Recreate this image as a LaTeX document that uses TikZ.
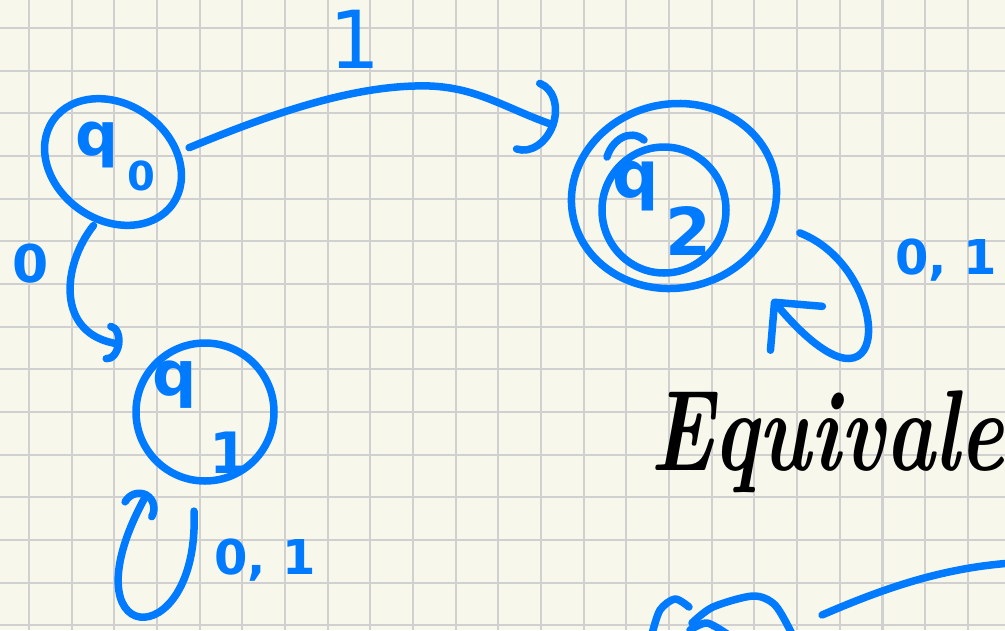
\documentclass[tikz,border=0pt]{standalone}
\usepackage{fontspec}
\newfontfamily\hand{DejaVu Sans}
\usetikzlibrary{arrows.meta,shapes.geometric}
\definecolor{ink}{RGB}{0,122,255}
\definecolor{paper}{RGB}{248,247,236}
\definecolor{gridc}{RGB}{208,208,208}
% put #3 with its left edge #1 right of and its baseline #2 above the node centre, taking no room
\newcommand\putat[3]{\makebox[0pt][l]{\hspace*{#1}\raisebox{#2}[0pt][0pt]{#3}}}
\begin{document}
\begin{tikzpicture}[x=1pt,y=-1pt,
  stroke/.style={draw=ink, line width=7.5pt, line cap=round, line join=round},
  statenode/.style={ellipse, inner sep=0pt, text=ink, font=\hand\bfseries},
  edge/.style={stroke},
  lbl/.style={text=ink, inner sep=0pt, font=\hand\bfseries},
  gridline/.style={draw=gridc, line width=2.2pt}]
\useasboundingbox (0,0) rectangle (1005,630);
\clip (0,0) rectangle (1005,630);
\fill[paper] (0,0) rectangle (1005,630);
\foreach \k in {0,...,22} \draw[gridline] ({29+42.67*\k},0) -- ({29+42.67*\k},630);
\foreach \k in {0,...,14} \draw[gridline] (0,{28+42.67*\k}) -- (1005,{28+42.67*\k});

% states
\node[statenode, minimum width=148pt, minimum height=120pt] (q0) at (113,162)
  {\putat{-38pt}{7pt}{\fontsize{60}{60}\selectfont q}\putat{14pt}{-28pt}{\fontsize{40}{40}\selectfont 0}};
\draw[stroke, rotate around={-35:(q0.center)}] (q0.center) ellipse (73 and 58);

\node[statenode, minimum width=140pt, minimum height=140pt] (q1) at (205,412)
  {\putat{-53pt}{17pt}{\fontsize{62}{62}\selectfont q}\putat{4pt}{-61pt}{\fontsize{57}{57}\selectfont 1}};
\draw[stroke] (q1.center) ellipse (69 and 69);

\node[statenode, minimum width=124pt, minimum height=126pt] (q2) at (664,210)
  {\putat{-52pt}{13pt}{\fontsize{65}{65}\selectfont q}\putat{1pt}{-45pt}{\fontsize{66}{66}\selectfont 2}};
\draw[stroke] (q2.center) ellipse (62 and 63);
\node[ellipse, inner sep=0pt, minimum width=208pt, minimum height=184pt] (q2o) at (674,196) {};
\draw[stroke, rotate around={12:(q2o.center)}] (q2o.center) ellipse (103 and 92);
\draw[stroke] (607,157) .. controls (612,140) and (630,128) .. (644,140);

% transitions
\draw[edge, shorten <=4pt, shorten >=38pt, -{Arc Barb[arc=180, length=30pt, width=77pt, round]}]
  (q0.10) .. controls (280,110) and (360,84) .. (430,86)
          .. controls (478,88) and (505,108) .. (q2o.145);
\node[lbl, font=\hand] at (355,39) {\fontsize{80}{80}\selectfont 1};

\draw[edge, shorten <=6pt, shorten >=48pt, -{Arc Barb[arc=180, length=14pt, width=40pt, round]}]
  (q0.-105) .. controls (62,265) and (55,335) .. (q1.120);
\node[lbl] at (31,264) {\fontsize{52}{52}\selectfont 0};

\draw[edge, shorten <=30pt, shorten >=28pt, -{Arc Barb[arc=180, length=20pt, width=38pt, round]}]
  (q1.-100) .. controls (200,660) and (60,650) .. (q1.-128);
\node[lbl] at (265,560) {\fontsize{48}{48}\selectfont 0, 1};

\draw[edge, shorten <=28pt, shorten >=45pt, -{Straight Barb[length=34pt, width=68pt, round]}]
  (q2o.-15) .. controls (895,270) and (895,445) .. (q2o.-45);
\node[lbl] at (946,260) {\fontsize{48}{48}\selectfont 0, 1};

% text
\node[anchor=base west, inner sep=0pt, text=black, font=\bfseries\itshape] (eq) at (650,470)
  {\fontsize{115}{115}\selectfont\scalebox{0.73}[1]{Equivale}};

% start of the next drawing, cut by the page edge
\draw[stroke] plot[smooth] coordinates {(652,634) (660,610) (675,599) (689,607)};
\draw[stroke] plot[smooth] coordinates {(692,623) (713,607) (753,596) (775,605) (792,634)};
\draw[stroke] plot[smooth] coordinates {(690,630) (707,623) (727,634)};
\draw[stroke] (822,615) .. controls (880,590) and (940,568) .. (1012,563);
\end{tikzpicture}
\end{document}
